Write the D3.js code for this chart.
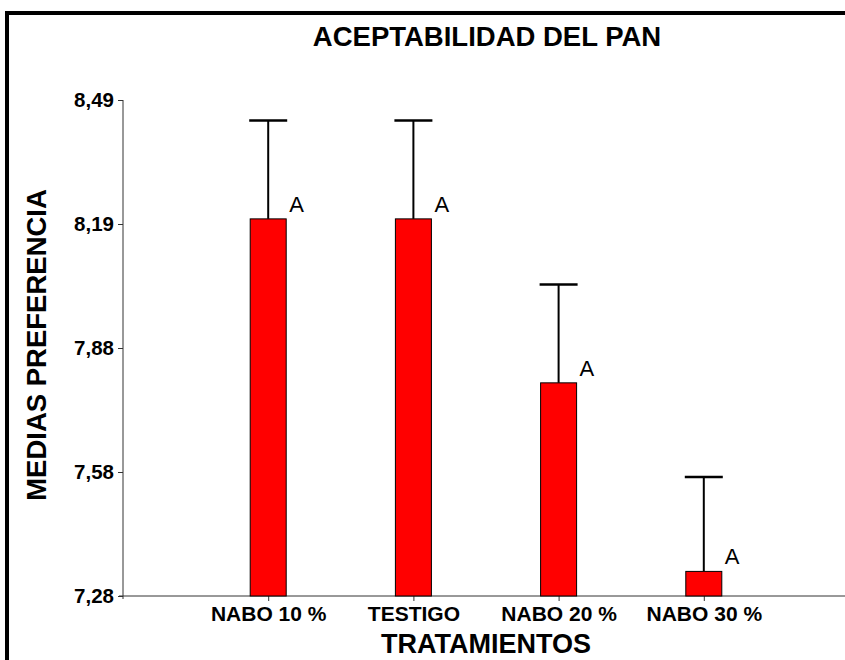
<!DOCTYPE html>
<html>
<head>
<meta charset="utf-8">
<script src="https://cdn.jsdelivr.net/npm/d3@7"></script>
<style>
  html, body { margin: 0; padding: 0; background: #fff; }
  svg { display: block; font-family: "Liberation Sans", Arial, sans-serif; }
</style>
</head>
<body>
<svg id="chart" width="845" height="660"></svg>
<script>
// Treatments and their mean preference scores
const categories = ["NABO 10 %", "TESTIGO", "NABO 20 %", "NABO 30 %"];
const means = [8.20, 8.20, 7.80, 7.34];
const errors = [0.24, 0.24, 0.24, 0.23];
const groups = ["A", "A", "A", "A"];
const yTickValues = [7.28, 7.5825, 7.885, 8.1875, 8.49];
const yTickLabels = ["7,28", "7,58", "7,88", "8,19", "8,49"];

const svg = d3.select("#chart");
const W = 845, H = 660;

// Frame around the chart (left and top edges)
svg.append("path")
  .attr("d", `M7,${H} L7,13 L${W},13`)
  .attr("fill", "none")
  .attr("stroke", "#000")
  .attr("stroke-width", 4);

const x = d3.scaleLinear().domain([0, categories.length + 1]).range([123, 849]);
const y = d3.scaleLinear().domain([7.28, 8.49]).range([596, 100]);

const barW = 36;
const g = svg.append("g");

// Y axis
const yAxis = d3.axisLeft(y)
  .tickValues(yTickValues)
  .tickFormat((d, i) => yTickLabels[i])
  .tickSizeOuter(0)
  .tickSize(5)
  .tickPadding(4);
const ya = g.append("g").attr("transform", "translate(123,0)").call(yAxis);
ya.select(".domain").attr("stroke", "#333").attr("d", "M0,100V599");
ya.selectAll(".tick line").attr("stroke", "#333").attr("x2", -5);
ya.selectAll(".tick text")
  .attr("font-size", 20.5).attr("font-weight", "bold").attr("fill", "#000")
  .attr("font-family", "Liberation Sans, Arial, sans-serif");

// X axis
const xAxis = d3.axisBottom(x)
  .tickValues(d3.range(1, categories.length + 1))
  .tickFormat(d => categories[d - 1])
  .tickSizeOuter(0)
  .tickSize(5)
  .tickPadding(5);
const xa = g.append("g").attr("transform", "translate(0,596)").call(xAxis);
xa.select(".domain").attr("stroke", "#333").attr("d", `M119,0H${W}`);
xa.selectAll(".tick line").attr("stroke", "#333");
xa.selectAll(".tick text")
  .attr("font-size", 21).attr("font-weight", "bold").attr("fill", "#000")
  .attr("font-family", "Liberation Sans, Arial, sans-serif");

const data = categories.map((c, i) => ({ c, i: i + 1, m: means[i], e: errors[i], gr: groups[i] }));

// Error bars (upper only)
g.selectAll(".err").data(data).enter().append("line")
  .attr("x1", d => x(d.i)).attr("x2", d => x(d.i))
  .attr("y1", d => y(d.m)).attr("y2", d => y(d.m + d.e))
  .attr("stroke", "#000").attr("stroke-width", 2);
g.selectAll(".cap").data(data).enter().append("line")
  .attr("x1", d => x(d.i) - barW / 2 - 1).attr("x2", d => x(d.i) + barW / 2 + 1)
  .attr("y1", d => y(d.m + d.e)).attr("y2", d => y(d.m + d.e))
  .attr("stroke", "#000").attr("stroke-width", 2.5);

// Bars
g.selectAll(".bar").data(data).enter().append("rect")
  .attr("x", d => x(d.i) - barW / 2)
  .attr("y", d => y(d.m))
  .attr("width", barW)
  .attr("height", d => y(7.28) - y(d.m))
  .attr("fill", "#ff0000")
  .attr("stroke", "#000")
  .attr("stroke-width", 1);

// Group letters
g.selectAll(".grp").data(data).enter().append("text")
  .attr("x", d => x(d.i) + barW / 2 + 3)
  .attr("y", d => y(d.m) - 7)
  .attr("font-size", 22)
  .attr("fill", "#000")
  .text(d => d.gr);

// Titles
svg.append("text")
  .attr("x", 487).attr("y", 46)
  .attr("text-anchor", "middle")
  .attr("font-size", 27.5).attr("font-weight", "bold")
  .text("ACEPTABILIDAD DEL PAN");

svg.append("text")
  .attr("transform", "translate(46,345) rotate(-90)")
  .attr("text-anchor", "middle")
  .attr("font-size", 27.5).attr("font-weight", "bold")
  .text("MEDIAS PREFERENCIA");

svg.append("text")
  .attr("x", 486).attr("y", 653)
  .attr("text-anchor", "middle")
  .attr("font-size", 27).attr("font-weight", "bold")
  .text("TRATAMIENTOS");
</script>
</body>
</html>
